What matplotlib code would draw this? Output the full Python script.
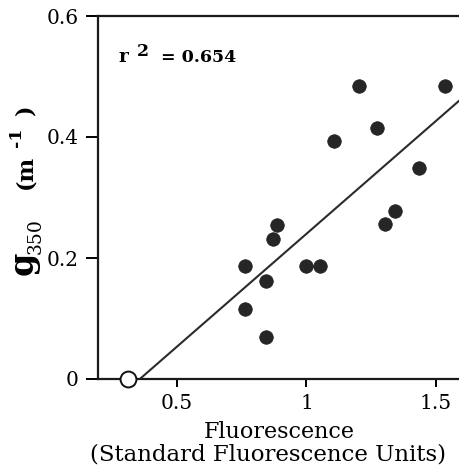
import numpy as np
import matplotlib
matplotlib.use("Agg")
import matplotlib.pyplot as plt

# Fluorescence (standard fluorescence units) and g350 (m^-1)
fluorescence = [1.204, 1.537, 1.272, 1.105, 1.433, 1.343, 1.304, 0.885,
                0.869, 0.763, 0.998, 1.052, 0.844, 0.763, 0.844]
g350 = [0.485, 0.485, 0.415, 0.393, 0.348, 0.278, 0.256, 0.255,
        0.231, 0.186, 0.186, 0.186, 0.162, 0.116, 0.070]

# Blank sample sitting on the x axis
blank_x = [0.31]
blank_y = [0.0]

# Regression line
fit_slope = 0.373
fit_intercept = -0.133
fit_x_range = [0.357, 1.62]
r_squared = 0.654

x_ticks = [0.5, 1.0, 1.5]
x_tick_labels = ["0.5", "1", "1.5"]
y_ticks = [0.0, 0.2, 0.4, 0.6]
y_tick_labels = ["0", "0.2", "0.4", "0.6"]

W, H = 460, 471
fig = plt.figure(figsize=(W / 100, H / 100), dpi=100)
ax = fig.add_axes([98 / W, 92 / H, (W - 98) / W, 363 / H])
ax.set_xlim(0.195, 1.593)
ax.set_ylim(0, 0.6)

serif = "DejaVu Serif"

fx = np.array(fit_x_range)
ax.plot(fx, fit_slope * fx + fit_intercept, color="#2b2b2b", lw=1.5,
        solid_capstyle="butt", zorder=2)

ax.scatter(fluorescence, g350, s=95, color="#262626", edgecolors="#1a1a1a",
           linewidths=0.5, zorder=3)
ax.scatter(blank_x, blank_y, s=130, facecolors="white", edgecolors="#111111",
           linewidths=1.4, zorder=4, clip_on=False)

for side in ["left", "bottom", "top"]:
    ax.spines[side].set_linewidth(1.6)
    ax.spines[side].set_color("#1a1a1a")
ax.spines["right"].set_visible(False)

ax.set_xticks(x_ticks)
ax.set_xticklabels(x_tick_labels, fontfamily=serif, fontsize=14.5)
ax.set_yticks(y_ticks)
ax.set_yticklabels(y_tick_labels, fontfamily=serif, fontsize=14.5)
ax.tick_params(axis="x", direction="out", length=6, width=1.4, pad=5)
ax.tick_params(axis="y", direction="out", length=9, width=1.4, pad=5)

# x-axis title (two lines)
fig.text(279 / W, 1 - 432 / H, "Fluorescence", family=serif, fontsize=16,
         ha="center", va="center")
fig.text(268 / W, 1 - 455 / H, "(Standard Fluorescence Units)", family=serif,
         fontsize=16.5, ha="center", va="center")

# y-axis title built from pieces: g_350 (m^-1)
fig.text(23 / W, 1 - 263 / H, "g", family=serif, fontsize=24,
         fontweight="bold", rotation=90, ha="center", va="center")
fig.text(36 / W, 1 - 236 / H, "350", family=serif, fontsize=13.5,
         rotation=90, ha="center", va="center")
fig.text(25 / W, 1 - 172 / H, "(m", family=serif, fontsize=16,
         fontweight="bold", rotation=90, ha="center", va="center")
fig.text(17 / W, 1 - 137 / H, "-1", family=serif, fontsize=12.5,
         fontweight="bold", rotation=90, ha="center", va="center")
fig.text(25 / W, 1 - 110 / H, ")", family=serif, fontsize=16,
         fontweight="bold", rotation=90, ha="center", va="center")

# r^2 annotation
fig.text(119 / W, 1 - 62 / H, "r", family=serif, fontsize=13.5,
         fontweight="bold", ha="left", va="baseline")
fig.text(137 / W, 1 - 56 / H, "2", family=serif, fontsize=12.5,
         fontweight="bold", ha="left", va="baseline")
fig.text(161 / W, 1 - 62 / H, f"= {r_squared:.3f}", family=serif,
         fontsize=12.5, fontweight="bold", ha="left", va="baseline")

fig.savefig("out.png", dpi=100)
